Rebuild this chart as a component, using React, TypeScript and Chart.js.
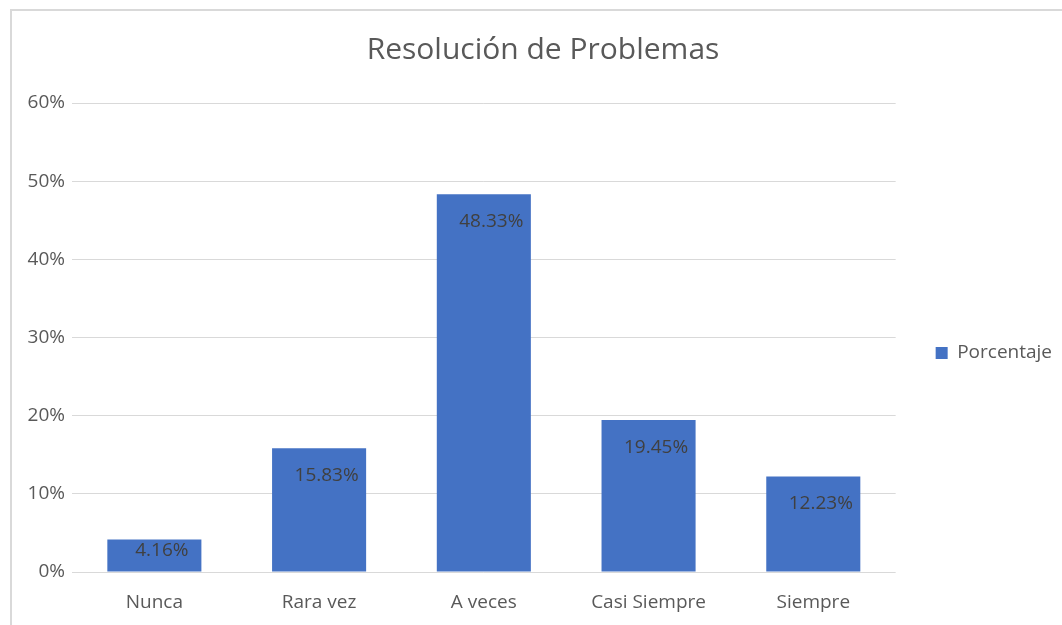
import React, { useEffect, useRef } from "react";
import { Chart, registerables } from "chart.js";

Chart.register(...registerables);

const categories: string[] = ["Nunca", "Rara vez", "A veces", "Casi Siempre", "Siempre"];
const porcentaje: number[] = [4.16, 15.83, 48.33, 19.45, 12.23];
const seriesName = "Porcentaje";
const chartTitle = "Resolución de Problemas";
const yMax = 60;
const yStep = 10;

const FONT = "'Open Sans', 'Noto Sans', sans-serif";
const BAR_COLOR = "#4472C4";
const TEXT_COLOR = "#595959";
const LABEL_COLOR = "#404040";
const GRID_COLOR = "#d9d9d9";

const dataLabelPlugin = {
  id: "dataLabels",
  afterDatasetsDraw(chart: any) {
    const ctx = chart.ctx;
    const meta = chart.getDatasetMeta(0);
    ctx.save();
    ctx.font = `19px ${FONT}`;
    ctx.fillStyle = LABEL_COLOR;
    ctx.textAlign = "center";
    ctx.textBaseline = "alphabetic";
    meta.data.forEach((bar: any, i: number) => {
      const v = porcentaje[i];
      const y = Math.min(bar.y + 33, bar.base - 16);
      ctx.fillText(v.toFixed(2) + "%", bar.x + 7.5, y);
    });
    ctx.restore();
  },
};

export default function App() {
  const canvasRef = useRef<HTMLCanvasElement | null>(null);

  useEffect(() => {
    if (!canvasRef.current) return;
    const chart = new Chart(canvasRef.current, {
      type: "bar",
      data: {
        labels: categories,
        datasets: [
          {
            label: seriesName,
            data: porcentaje,
            backgroundColor: BAR_COLOR,
            borderWidth: 0,
            categoryPercentage: 1,
            barPercentage: 0.571,
          },
        ],
      },
      options: {
        responsive: false,
        animation: false,
        devicePixelRatio: 1,
        layout: { padding: { left: 24, right: 0, top: 0, bottom: 0 } },
        plugins: {
          title: {
            display: true,
            text: chartTitle,
            color: TEXT_COLOR,
            font: { family: FONT, size: 30, weight: "normal", lineHeight: 1.2 },
            padding: { top: 32, bottom: 35 },
          },
          legend: {
            display: true,
            position: "right",
            fullSize: false,
            maxWidth: 167,
            title: {
              display: true,
              text: "",
              font: { size: 11, lineHeight: 1 },
              padding: 10,
            },
            labels: {
              boxWidth: 12,
              boxHeight: 12,
              padding: 40,
              color: TEXT_COLOR,
              font: { family: FONT, size: 19 },
            },
          },
          tooltip: { enabled: false },
        },
        scales: {
          x: {
            grid: { display: false, drawTicks: false },
            border: { display: false },
            ticks: {
              color: TEXT_COLOR,
              font: { family: FONT, size: 19 },
              padding: 19,
              maxRotation: 0,
            },
            afterFit(scale: any) {
              scale.height = 53;
            },
          },
          y: {
            min: 0,
            max: yMax,
            grid: { color: GRID_COLOR, lineWidth: 1, drawTicks: false },
            border: { display: false },
            ticks: {
              stepSize: yStep,
              color: TEXT_COLOR,
              font: { family: FONT, size: 19 },
              padding: 7,
              callback: (v: any) => `${v}%`,
            },
            afterFit(scale: any) {
              scale.width = 48;
            },
          },
        },
      },
      plugins: [dataLabelPlugin],
    } as any);
    return () => chart.destroy();
  }, []);

  return (
    <div
      style={{
        position: "fixed",
        left: 0,
        top: 0,
        width: 1062,
        height: 625,
        overflow: "hidden",
        background: "#ffffff",
      }}
    >
      <div
        style={{
          position: "absolute",
          left: 10,
          top: 9,
          width: 1100,
          height: 700,
          borderTop: `2px solid ${GRID_COLOR}`,
          borderLeft: `2px solid ${GRID_COLOR}`,
        }}
      />
      <canvas
        ref={canvasRef}
        width={1062}
        height={625}
        style={{ position: "absolute", left: 0, top: 0, display: "block" }}
      />
    </div>
  );
}
